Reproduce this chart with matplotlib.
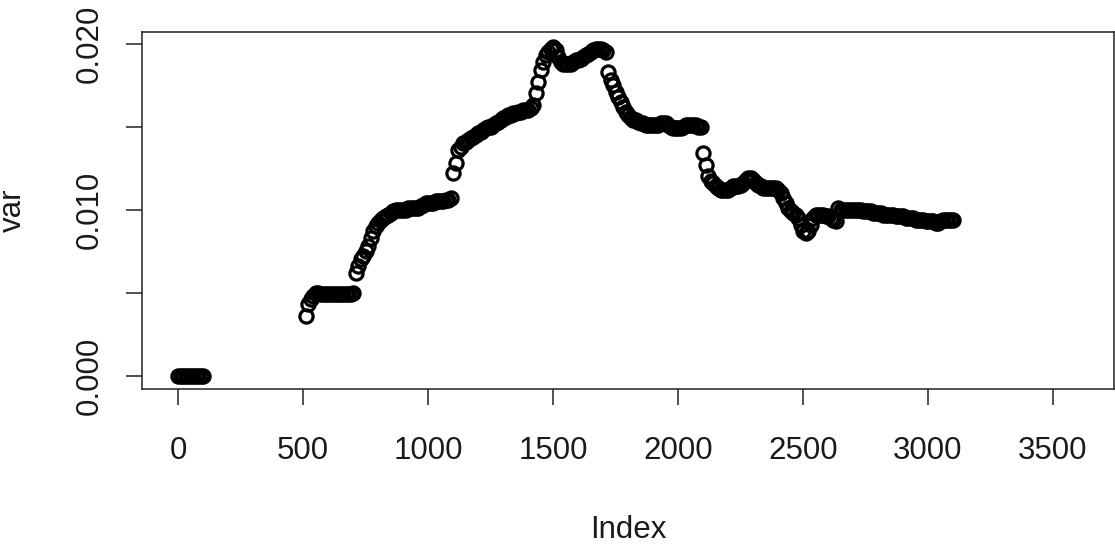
import matplotlib
matplotlib.use("Agg")
import matplotlib.pyplot as plt
import numpy as np

# indice 0..100: tramo inicial en cero
idx_inicio = np.arange(0, 101, 10)
var_inicio = [0.0, 0.0, 0.0, 0.0, 0.0, 0.0, 0.0, 0.0, 0.0, 0.0, 0.0]

# indice 510..3100 (paso 10)
idx_serie = np.arange(510, 3101, 10)
var_serie = [
    0.0036, 0.0043, 0.0046, 0.0048, 0.0050, 0.0050, 0.0049, 0.0049, 0.0049, 0.0049,
    0.0049, 0.0049, 0.0049, 0.0049, 0.0049, 0.0049, 0.0049, 0.0049, 0.0049, 0.0050,
    0.0062, 0.0066, 0.0070, 0.0072, 0.0075, 0.0078, 0.0083, 0.0087, 0.0090, 0.0092,
    0.0094, 0.0095, 0.0096, 0.0097, 0.0098, 0.0099, 0.0100, 0.0100, 0.0100, 0.0100,
    0.0100, 0.0101, 0.0101, 0.0101, 0.0101, 0.0101, 0.0102, 0.0103, 0.0104, 0.0104,
    0.0104, 0.0104, 0.0105, 0.0105, 0.0105, 0.0105, 0.0106, 0.0106, 0.0107, 0.0122,
    0.0128, 0.0136, 0.0138, 0.0140, 0.0141, 0.0142, 0.0143, 0.0144, 0.0145, 0.0146,
    0.0147, 0.0148, 0.0149, 0.0150, 0.0150, 0.0151, 0.0152, 0.0153, 0.0154, 0.0155,
    0.0156, 0.0157, 0.0157, 0.0158, 0.0158, 0.0159, 0.0159, 0.0160, 0.0160, 0.0160,
    0.0161, 0.0163, 0.0170, 0.0177, 0.0184, 0.0189, 0.0193, 0.0195, 0.0197, 0.0198,
    0.0196, 0.0192, 0.0189, 0.0188, 0.0188, 0.0188, 0.0188, 0.0189, 0.0190, 0.0190,
    0.0191, 0.0192, 0.0193, 0.0194, 0.0195, 0.0196, 0.0197, 0.0197, 0.0197, 0.0196,
    0.0195, 0.0183, 0.0178, 0.0175, 0.0171, 0.0168, 0.0165, 0.0162, 0.0159, 0.0157,
    0.0155, 0.0154, 0.0154, 0.0153, 0.0152, 0.0152, 0.0151, 0.0151, 0.0151, 0.0151,
    0.0151, 0.0151, 0.0152, 0.0152, 0.0152, 0.0151, 0.0150, 0.0149, 0.0149, 0.0149,
    0.0149, 0.0150, 0.0151, 0.0151, 0.0151, 0.0151, 0.0151, 0.0150, 0.0150, 0.0134,
    0.0127, 0.0120, 0.0117, 0.0116, 0.0114, 0.0113, 0.0112, 0.0112, 0.0112, 0.0112,
    0.0113, 0.0114, 0.0114, 0.0114, 0.0115, 0.0116, 0.0118, 0.0119, 0.0119, 0.0118,
    0.0116, 0.0115, 0.0114, 0.0113, 0.0113, 0.0113, 0.0113, 0.0113, 0.0113, 0.0112,
    0.0110, 0.0107, 0.0104, 0.0101, 0.0099, 0.0098, 0.0097, 0.0095, 0.0091, 0.0087,
    0.0086, 0.0087, 0.0091, 0.0095, 0.0097, 0.0097, 0.0097, 0.0097, 0.0096, 0.0096,
    0.0095, 0.0094, 0.0093, 0.0101, 0.0100, 0.0100, 0.0100, 0.0100, 0.0100, 0.0100,
    0.0100, 0.0100, 0.0100, 0.0099, 0.0099, 0.0099, 0.0099, 0.0098, 0.0098, 0.0098,
    0.0098, 0.0097, 0.0097, 0.0097, 0.0097, 0.0097, 0.0096, 0.0096, 0.0096, 0.0096,
    0.0095, 0.0095, 0.0095, 0.0095, 0.0094, 0.0094, 0.0094, 0.0094, 0.0093, 0.0093,
    0.0093, 0.0093, 0.0092, 0.0092, 0.0093, 0.0094, 0.0094, 0.0094, 0.0094, 0.0094,
]

x_ticks = [0, 500, 1000, 1500, 2000, 2500, 3000, 3500]
y_ticks = [0.0, 0.005, 0.010, 0.015, 0.020]
y_labels = ["0.000", "", "0.010", "", "0.020"]

plt.rcParams['font.family'] = ['Liberation Sans', 'DejaVu Sans']

fig = plt.figure(figsize=(11.15, 5.46), dpi=100)
ax = fig.add_axes([142 / 1115, 1 - 389 / 546, 972 / 1115, 357 / 546])

# circulos abiertos como pch=1 de R; borde grueso para que se solapen
estilo = dict(linestyle='none', marker='o', markersize=9.5,
              markerfacecolor='none', markeredgecolor='black', markeredgewidth=2.3)
ax.plot(idx_inicio, var_inicio, **estilo)
ax.plot(idx_serie, var_serie, **estilo)

# limites estilo R (4% extra)
ax.set_xlim(-144, 3744)
ax.set_ylim(-0.0008, 0.0207)

ax.set_xticks(x_ticks)
ax.set_xticklabels([str(t) for t in x_ticks])
ax.set_yticks(y_ticks)
ax.set_yticklabels(y_labels)

ax.tick_params(axis='both', direction='out', length=11.5, width=1.1,
               color='#222222', labelsize=22.5, labelcolor='#1a1a1a')
ax.tick_params(axis='x', pad=22)
ax.tick_params(axis='y', pad=15)
for lbl in ax.get_yticklabels():
    lbl.set_rotation(90)
    lbl.set_va('center')

for s in ax.spines.values():
    s.set_linewidth(1.1)
    s.set_color('#222222')

ax.set_xlabel('Index', fontsize=22.5, color='#1a1a1a', va='baseline')
ax.xaxis.set_label_coords(0.5, (389 - 538) / 357)
ax.set_ylabel('var', fontsize=22.5, color='#1a1a1a', va='center')
ax.yaxis.set_label_coords((13 - 142) / 972, 0.5)

fig.savefig('out.png', dpi=100)
